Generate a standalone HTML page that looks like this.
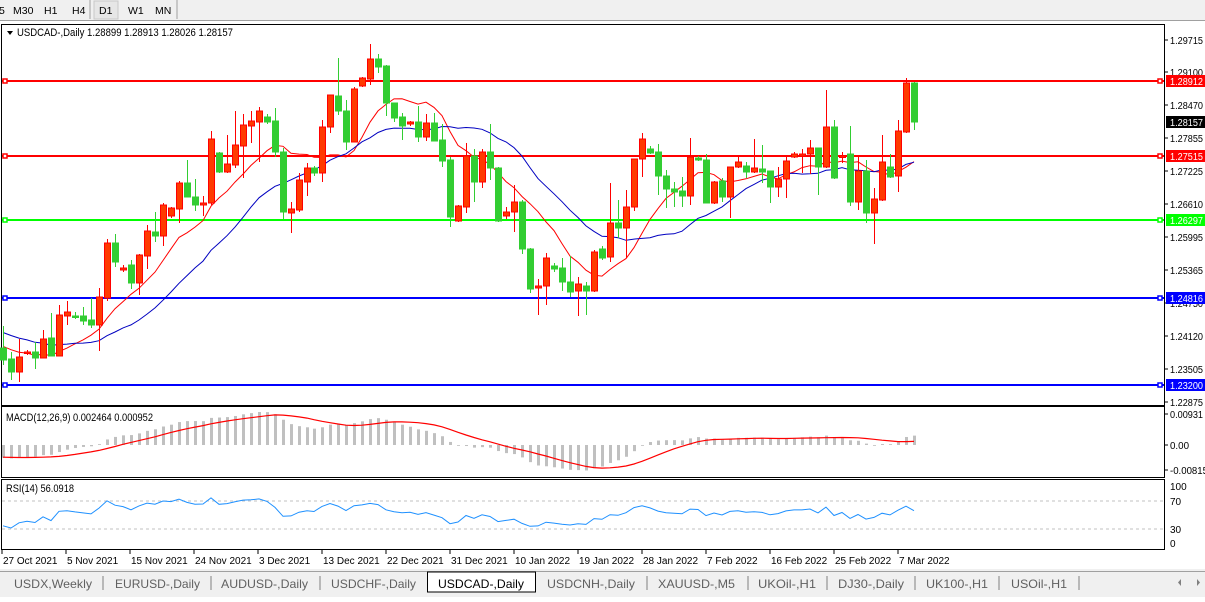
<!DOCTYPE html>
<html><head><meta charset="utf-8">
<style>
html,body{margin:0;padding:0;background:#fff;}
body{width:1205px;height:597px;overflow:hidden;font-family:"Liberation Sans",sans-serif;}
svg text{font-family:"Liberation Sans",sans-serif;font-size:11px;fill:#000;}
</style></head>
<body>
<svg id="s" width="1205" height="597" viewBox="0 0 1205 597" xmlns="http://www.w3.org/2000/svg"></svg>
<script>
const C=[
[3,348,360,326,365],[11,359,372,352,380],[19,372,357,339,382],[27,353,352,350,355],[35,352,358,342,369],
[43,358,339,330,358],[51,338,356,313,356],[59,356,315,305,356],[67,316,312,301,325],[75,316,317,312,319],
[83,316,321,307,325],[91,320,325,298,328],[99,325,297,288,351],[107,298,243,239,301],[115,243,262,234,267],
[123,270,268,265,272],[131,265,283,260,289],[139,283,255,254,295],[147,256,231,225,269],[155,232,236,212,242],
[163,236,205,203,246],[171,216,208,207,218],[179,209,183,181,223],[187,183,197,160,197],[195,197,205,179,211],
[203,205,203,196,216],[211,203,139,131,205],[219,153,172,152,173],[227,172,164,135,173],[235,165,145,111,168],
[243,146,125,114,178],[251,126,121,111,143],[259,122,111,107,162],[267,117,122,114,124],[275,121,152,108,157],
[283,152,212,148,219],[291,213,209,202,233],[299,210,180,173,212],[307,182,168,163,196],[314,168,173,166,176],
[322,173,127,120,182],[330,127,95,95,133],[338,96,111,58,115],[346,111,142,100,150],[354,142,89,87,142],
[362,86,78,77,87],[370,79,59,44,85],[378,59,67,54,73],[386,66,103,65,116],[394,103,118,103,122],
[402,117,126,113,140],[410,124,122,121,126],[418,122,137,106,142],[426,137,123,114,141],[434,123,141,113,141],
[442,140,161,124,167],[450,160,217,157,227],[458,221,206,205,222],[466,207,156,143,213],[474,156,182,149,202],
[482,182,152,149,188],[490,152,168,124,180],[498,168,221,167,222],[506,216,212,207,219],[514,212,202,185,232],
[522,202,249,200,254],[530,249,289,248,293],[538,288,286,279,315],[546,286,258,253,305],[554,266,269,263,272],
[562,268,282,258,291],[570,282,292,256,297],[578,291,284,277,316],[586,286,291,282,315],[594,291,252,250,292],
[602,249,258,246,260],[610,257,223,183,262],[618,223,228,200,238],[626,228,207,190,258],[634,207,159,159,211],
[642,159,139,133,177],[650,149,153,146,154],[658,152,176,144,195],[666,176,189,170,208],[674,189,192,182,207],
[682,191,196,177,207],[690,196,157,138,205],[698,158,160,156,161],[706,160,203,154,203],[714,203,182,181,204],
[722,181,197,178,202],[730,197,167,167,218],[738,167,162,156,168],[746,166,172,162,178],[754,172,168,139,173],
[762,169,172,145,183],[770,171,187,171,203],[778,187,179,167,197],[786,179,161,156,198],[794,157,154,152,158],
[802,156,154,149,173],[810,154,148,140,174],[818,148,167,148,195],[826,167,127,90,168],[834,127,178,120,179],
[842,157,156,152,163],[850,154,202,126,206],[858,202,171,157,210],[866,171,213,160,223],[874,213,199,188,244],
[882,200,162,135,201],[890,167,177,154,178],[898,176,131,120,192],[906,132,83,78,133],[914,83,122,82,130]];
let o='';
o+='<rect x="0" y="0" width="1205" height="20" fill="#f0f0f0"/>';
o+='<rect x="94" y="1" width="24" height="18" fill="#e6e6e6" stroke="#c8c8c8"/>';
o+='<line x1="90" y1="0" x2="90" y2="19" stroke="#a0a0a0"/><line x1="177" y1="0" x2="177" y2="19" stroke="#a0a0a0"/>';
[['5',-1],['M30',13],['H1',44],['H4',72],['D1',99],['W1',128],['MN',155]].forEach(t=>o+=`<text x="${t[1]}" y="14" style="font-size:10.5px">${t[0]}</text>`);
o+='<line x1="0" y1="20.5" x2="1205" y2="20.5" stroke="#a0a0a0"/>';
o+='<rect x="1.5" y="24.5" width="1163" height="381" fill="#fff" stroke="#000"/>';
o+='<rect x="1.5" y="406.5" width="1163" height="71" fill="#fff" stroke="#000"/>';
o+='<rect x="1.5" y="479.5" width="1163" height="70" fill="#fff" stroke="#000"/>';
const TL='textLength="33" lengthAdjust="spacingAndGlyphs"';
[['1.29715',40],['1.29100',72],['1.28470',105],['1.27855',138],['1.27225',171],['1.26610',204],['1.25995',237],['1.25365',270],['1.24750',303],['1.24120',336],['1.23505',369],['1.22875',402]].forEach(t=>{
o+=`<line x1="1165" y1="${t[1]}" x2="1168" y2="${t[1]}" stroke="#000"/><text x="1170" y="${t[1]+4}" ${TL} style="font-size:10px">${t[0]}</text>`;});
const cl=C.map(d=>d[2]);
const pad=[];for(let k=0;k<40;k++)pad.push(250+105*k/39+(k%2?5:-5));
const all=pad.concat(cl),P=40;
function sma(n,j){let s=0;for(let q=j-n+1;q<=j;q++)s+=all[q];return s/n;}
let red='',blue='';
C.forEach((d,i)=>{red+=(i?'L':'M')+d[0]+','+sma(10,i+P).toFixed(1);blue+=(i?'L':'M')+d[0]+','+sma(20,i+P).toFixed(1);});
[[81,'#ff0000','1.28912'],[156,'#ff0000','1.27515'],[220,'#00ff00','1.26297'],[298,'#0000ff','1.24816'],[385,'#0000ff','1.23200']].forEach(h=>{
o+=`<line x1="2" y1="${h[0]}" x2="1164" y2="${h[0]}" stroke="${h[1]}" stroke-width="2"/>`;
o+=`<rect x="3" y="${h[0]-2}" width="4" height="4" fill="#fff" stroke="${h[1]}" stroke-width="1.5"/>`;
o+=`<rect x="1158" y="${h[0]-2}" width="4" height="4" fill="#fff" stroke="${h[1]}" stroke-width="1.5"/>`;
o+=`<rect x="1166" y="${h[0]-6}" width="39" height="12" fill="${h[1]}"/><text x="1170" y="${h[0]+4}" ${TL} style="fill:#fff;font-size:10px">${h[2]}</text>`;});
o+=`<rect x="1166" y="116" width="39" height="12" fill="#000"/><text x="1170" y="126" ${TL} style="fill:#fff;font-size:10px">1.28157</text>`;
o+=`<path d="${red}" fill="none" stroke="#ff0000" stroke-width="1"/><path d="${blue}" fill="none" stroke="#0000c0" stroke-width="1"/>`;
C.forEach(d=>{const[x,op,c,h,l]=d;const up=c<op;const col=up?'#ff0000':'#32cd32';const f=up?'#ff3a00':'#32cd32';
o+=`<line x1="${x+0.5}" y1="${h}" x2="${x+0.5}" y2="${l}" stroke="${col}"/>`;
const t=Math.min(op,c),b=Math.max(op,c);o+=`<rect x="${x-2.5}" y="${t}" width="6" height="${Math.max(b-t,1.5)}" fill="${f}" stroke="${col}"/>`;});
o+='<path d="M7,31 L13,31 L10,35 Z" fill="#000"/><text x="17" y="36" textLength="216" lengthAdjust="spacingAndGlyphs">USDCAD-,Daily  1.28899 1.28913 1.28026 1.28157</text>';
function ema(n){const a=2/(n+1);let e=all[0];const r=[e];for(let j=1;j<all.length;j++){e=all[j]*a+e*(1-a);r.push(e);}return r;}
const e12=ema(12),e26=ema(26);const m=all.map((v,j)=>-(e12[j]-e26[j]));
const sg=m.map((v,j)=>{if(j<8)return v;let s=0;for(let q=j-8;q<=j;q++)s+=m[q];return s/9;});
let mx=0;for(let j=P;j<all.length;j++)mx=Math.max(mx,m[j]);const k=33/mx;
let sp='';
C.forEach((d,i)=>{const v=Math.max(-30,m[i+P]*k);o+=`<rect x="${d[0]-1}" y="${Math.min(445,445-v)}" width="3" height="${Math.max(Math.abs(v),0.8)}" fill="#c0c0c0"/>`;
sp+=(i?'L':'M')+d[0]+','+Math.min(475,445-sg[i+P]*k).toFixed(1);});
o+=`<path d="${sp}" fill="none" stroke="#ff0000" stroke-width="1.2"/>`;
o+='<text x="6" y="421" textLength="147" lengthAdjust="spacingAndGlyphs">MACD(12,26,9) 0.002464 0.000952</text>';
[['0.00931',418,33],['0.00',449,19],['-0.00815',474,38]].forEach(t=>o+=`<line x1="1165" y1="${t[1]-4}" x2="1168" y2="${t[1]-4}" stroke="#000"/><text x="1170" y="${t[1]}" style="font-size:10px" textLength="${t[2]}" lengthAdjust="spacingAndGlyphs">${t[0]}</text>`);
let ag=0,al=0;const pr=all.map(v=>-v);for(let j=1;j<=14;j++){const d=pr[j]-pr[j-1];if(d>0)ag+=d;else al-=d;}ag/=14;al/=14;
const rsi=[];for(let j=15;j<pr.length;j++){const d=pr[j]-pr[j-1];ag=(ag*13+Math.max(d,0))/14;al=(al*13+Math.max(-d,0))/14;rsi[j]=100-100/(1+ag/(al||1e-9));}
let rp='';C.forEach((d,i)=>{const v=rsi[i+P];rp+=(i?'L':'M')+d[0]+','+(501+(70-v)*0.7).toFixed(1);});
o+='<line x1="2" y1="501" x2="1164" y2="501" stroke="#c0c0c0" stroke-dasharray="3,3"/><line x1="2" y1="529" x2="1164" y2="529" stroke="#c0c0c0" stroke-dasharray="3,3"/>';
o+=`<path d="${rp}" fill="none" stroke="#1e90ff" stroke-width="1"/>`;
o+='<text x="6" y="492" textLength="68" lengthAdjust="spacingAndGlyphs">RSI(14) 56.0918</text>';
[['100',490],['70',505],['30',533],['0',547]].forEach(t=>o+=`<text x="1170" y="${t[1]}" style="font-size:10px">${t[0]}</text>`);
['27 Oct 2021','5 Nov 2021','15 Nov 2021','24 Nov 2021','3 Dec 2021','13 Dec 2021','22 Dec 2021','31 Dec 2021','10 Jan 2022','19 Jan 2022','28 Jan 2022','7 Feb 2022','16 Feb 2022','25 Feb 2022','7 Mar 2022'].forEach((t,i)=>{const x=2+64*i;
o+=`<line x1="${x}" y1="550" x2="${x}" y2="554" stroke="#000"/><text x="${x+1}" y="564" style="font-size:10px">${t}</text>`;});
o+='<rect x="0" y="569" width="1205" height="28" fill="#f0f0f0"/><line x1="0" y1="571.5" x2="1205" y2="571.5" stroke="#a0a0a0"/>';
o+='<rect x="427.5" y="572" width="108" height="20" fill="#fff" stroke="#000"/>';
[['USDX,Weekly',14,78],['EURUSD-,Daily',115,85],['AUDUSD-,Daily',221,87],['USDCHF-,Daily',331,85],['USDCAD-,Daily',438,86],['USDCNH-,Daily',547,88],['XAUUSD-,M5',658,77],['UKOil-,H1',758,58],['DJ30-,Daily',838,66],['UK100-,H1',926,62],['USOil-,H1',1011,56]].forEach(t=>{
o+=`<text x="${t[1]}" y="588" textLength="${t[2]}" lengthAdjust="spacingAndGlyphs" style="font-size:12px;fill:${t[0]=='USDCAD-,Daily'?'#000':'#606060'}">${t[0]}</text>`;});
[103,211,320,647,748,827,915,999,1079].forEach(x=>o+=`<line x1="${x}" y1="576" x2="${x}" y2="590" stroke="#808080"/>`);
o+='<path d="M1181,579 L1181,586 L1178,582.5 Z" fill="#808080"/><path d="M1197,579 L1197,586 L1200,582.5 Z" fill="#808080"/>';
document.getElementById('s').innerHTML=o;
</script>
</body></html>
